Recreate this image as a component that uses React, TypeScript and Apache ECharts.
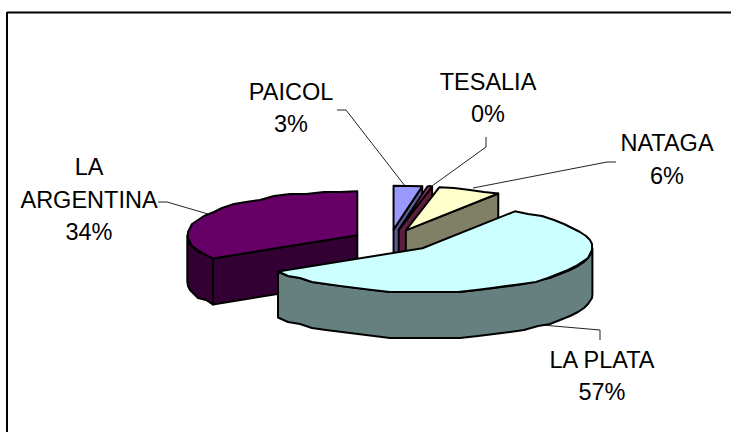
import React, { useEffect, useRef } from "react";
import * as echarts from "echarts";

const categories = ["PAICOL", "TESALIA", "NATAGA", "LA PLATA", "LA ARGENTINA"];
const values = [2.7, 0.45, 6.0, 57.0, 33.85];
const topColors = ["#9999FF", "#993366", "#FFFFCC", "#CCFFFF", "#660066"];
const sideColors = ["#5C5C99", "#5C1F3D", "#808066", "#668080", "#330033"];
const drawOrder = [0, 1, 2, 4, 3];

const CX = 393, CY = 240.5, RX = 170, RY = 44, DEPTH = 46, EXPLODE = 0.247;
const FONT = '23.5px "Liberation Sans", Arial, sans-serif';
const W = 731, H = 432;
const JAG = 2;
const sliceNudge = [[-3, 0], [-2, 0], [-3, 0], [0, 0], [1, 0]];

const labelLayout = [
  { x: 291, ys: [92, 124] },
  { x: 488, ys: [82, 114] },
  { x: 667, ys: [143, 176] },
  { x: 602, ys: [360, 392] },
  { x: 89, ys: [167, 200, 232] },
];
const leaderLayout = [
  [[337, 110], [346, 110], [405, 186]],
  [[486, 137], [486, 147], [432, 186]],
  [[616, 162], [607, 162], [473, 188]],
  [[600, 340], [600, 330], [542, 325]],
  [[158, 202], [167, 202], [208, 214]],
];

const total = values.reduce((a, b) => a + b, 0);
const toRad = (d: number) => (d * Math.PI) / 180;

function sliceAngles(i: number) {
  const before = values.slice(0, i).reduce((a, b) => a + b, 0);
  const start = (before / total) * 360;
  return { start, end: start + (values[i] / total) * 360 };
}

function renderSlice(params: any) {
  const i = params.dataIndex;
  const { start, end } = sliceAngles(i);
  const mid = toRad((start + end) / 2);
  const cx = CX + EXPLODE * RX * Math.sin(mid) + sliceNudge[i][0];
  const cy = CY - EXPLODE * RY * Math.cos(mid) + sliceNudge[i][1];
  const pt = (deg: number, dz = 0): number[] => [
    cx + RX * Math.sin(toRad(deg)),
    cy - RY * Math.cos(toRad(deg)) + dz,
  ];
  // The original's arcs are coarse, slightly stepped polygons.
  const snap = (p: number[], dz: number) => [
    Math.round(p[0] / JAG) * JAG,
    Math.round((p[1] - dz) / JAG) * JAG + dz,
  ];
  const arc = (a: number, b: number, dz = 0) => {
    const n = Math.max(2, Math.ceil(Math.abs(b - a) / 6));
    return Array.from({ length: n + 1 }, (_, k) => {
      const p = pt(a + ((b - a) * k) / n, dz);
      return k === 0 || k === n ? p : snap(p, dz);
    });
  };
  const rank = drawOrder.indexOf(i) * 10;
  const sideStyle = { fill: sideColors[i], stroke: "#000", lineWidth: 2, lineJoin: "round" };
  const children: any[] = [];
  const addWall = (deg: number) => {
    const a = pt(deg), b = pt(deg, DEPTH);
    children.push({
      type: "polygon", z2: rank + 1,
      shape: { points: [[cx, cy], a, b, [cx, cy + DEPTH]] },
      style: sideStyle,
    });
  };
  if (Math.cos(toRad(start - 90)) < -1e-6) addWall(start);
  if (Math.cos(toRad(end + 90)) < -1e-6) addWall(end);
  const a0 = Math.max(start, 90), a1 = Math.min(end, 270);
  if (a1 > a0) {
    children.push({
      type: "polygon", z2: rank + 2,
      shape: { points: [...arc(a0, a1), ...arc(a1, a0, DEPTH)] },
      style: sideStyle,
    });
  }
  children.push({
    type: "polygon", z2: rank + 3,
    shape: { points: [[cx, cy], ...arc(start, end)] },
    style: { fill: topColors[i], stroke: "#000", lineWidth: 2, lineJoin: "round" },
  });
  return { type: "group", children };
}

export default function App() {
  const ref = useRef<HTMLDivElement>(null);
  useEffect(() => {
    const chart = echarts.init(ref.current!, null, { renderer: "svg" });
    const frame = [
      { type: "line", shape: { x1: 7, y1: 12.5, x2: W, y2: 12.5 }, style: { stroke: "#000", lineWidth: 2 } },
      { type: "line", shape: { x1: 7, y1: 12, x2: 7, y2: H }, style: { stroke: "#000", lineWidth: 2 } },
    ];
    const leaders = leaderLayout.map((points) => ({
      type: "polyline", shape: { points }, style: { stroke: "#222", lineWidth: 1, fill: "none" },
    }));
    const texts: any[] = [];
    categories.forEach((c, i) => {
      const lines = c === "LA ARGENTINA" ? c.split(" ") : [c];
      lines.push(`${Math.round((values[i] / total) * 100)}%`);
      lines.forEach((t, k) => {
        texts.push({
          type: "text", x: labelLayout[i].x, y: labelLayout[i].ys[k],
          style: { text: t, font: FONT, fill: "#000", align: "center", verticalAlign: "middle" },
        });
      });
    });
    chart.setOption({
      animation: false,
      backgroundColor: "#fff",
      graphic: { elements: [...frame, ...leaders, ...texts] },
      series: [{
        type: "custom",
        coordinateSystem: "none",
        renderItem: renderSlice,
        data: values.map((v, i) => ({ name: categories[i], value: v })),
        silent: true,
      }],
    });
    return () => chart.dispose();
  }, []);
  return <div ref={ref} style={{ position: "absolute", left: 0, top: 0, width: W, height: H }} />;
}
